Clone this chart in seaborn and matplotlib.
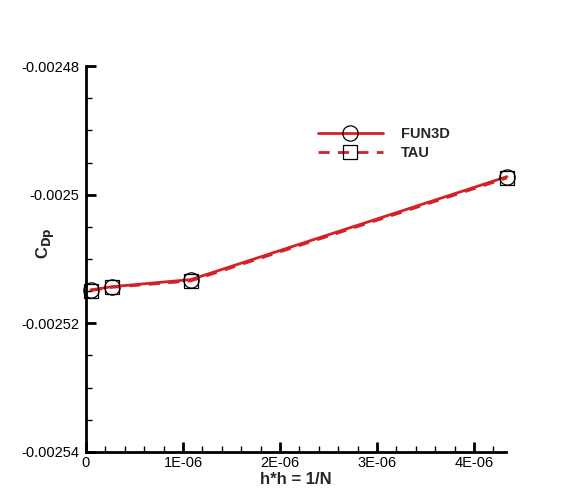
import pandas as pd
import matplotlib
matplotlib.use('Agg')
import matplotlib.pyplot as plt
import seaborn as sns
from matplotlib.ticker import MultipleLocator, FuncFormatter

# Valores
h2 = [0.05e-06, 0.27e-06, 1.08e-06, 4.34e-06]
cdp_fun3d = [-0.0025148, -0.0025143, -0.0025132, -0.0024972]
cdp_tau = [-0.0025149, -0.0025144, -0.0025134, -0.0024974]

sns.set_style('white')
plt.rcParams['font.family'] = ['Liberation Sans', 'DejaVu Sans']

dados = pd.DataFrame({
    'h2': h2 * 2,
    'cdp': cdp_fun3d + cdp_tau,
    'serie': ['FUN3D'] * len(h2) + ['TAU'] * len(h2),
})

fig = plt.figure(figsize=(5.72, 5.04), dpi=100)
ax = fig.add_axes([0.1503, 0.1032, 0.7343, 0.7658])

vermelho = '#d42028'
sns.lineplot(data=dados[dados['serie'] == 'FUN3D'], x='h2', y='cdp', ax=ax,
             color=vermelho, lw=2, marker='o', markersize=11,
             mfc='none', mec='black', mew=0.9, label='FUN3D', sort=False,
             clip_on=False)
sns.lineplot(data=dados[dados['serie'] == 'TAU'], x='h2', y='cdp', ax=ax,
             color=vermelho, lw=2, marker='s', markersize=10,
             mfc='none', mec='black', mew=0.9, label='TAU', sort=False,
             clip_on=False)
ax.lines[1].set_dashes([4, 3])

ax.set_xlim(0, 4.33e-06)
ax.set_ylim(-0.00254, -0.00248)

ax.xaxis.set_major_locator(MultipleLocator(1e-06))
ax.xaxis.set_minor_locator(MultipleLocator(0.2e-06))
ax.yaxis.set_major_locator(MultipleLocator(0.00002))
ax.yaxis.set_minor_locator(MultipleLocator(0.000005))

def fmt_x(v, pos):
    if abs(v) < 1e-12:
        return '0'
    return f'{round(v * 1e6):d}E-06'

def fmt_y(v, pos):
    return f'{v:.5f}'.rstrip('0')

ax.xaxis.set_major_formatter(FuncFormatter(fmt_x))
ax.yaxis.set_major_formatter(FuncFormatter(fmt_y))
ax.xaxis.get_offset_text().set_visible(False)

for lado in ['top', 'right']:
    ax.spines[lado].set_visible(False)
for lado in ['left', 'bottom']:
    ax.spines[lado].set_linewidth(2)
    ax.spines[lado].set_color('black')

ax.tick_params(which='major', direction='in', length=7, width=2,
               labelsize=10.5, colors='black')
ax.tick_params(axis='y', which='major', pad=5)
ax.tick_params(axis='x', which='major', pad=3)
ax.tick_params(which='minor', direction='in', length=4, width=1, colors='black')
ax.tick_params(left=True, bottom=True, which='both')

ax.set_xlabel('h*h = 1/N', fontsize=12, fontweight='bold', labelpad=1)
ax.set_ylabel(r'C$_{\mathbf{Dp}}$', fontsize=12, fontweight='bold')
ax.yaxis.set_label_coords(-0.068, 0.54)

ax.legend(loc='upper left', bbox_to_anchor=(0.52, 0.875), frameon=False,
          prop={'weight': 'bold', 'size': 10.5},
          handlelength=4.5, handletextpad=1.2, labelspacing=0.35)

fig.savefig('out.png', dpi=100)
